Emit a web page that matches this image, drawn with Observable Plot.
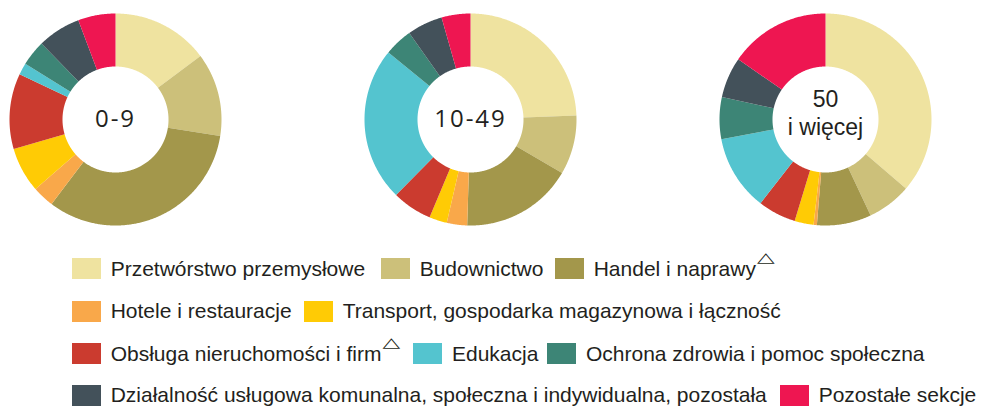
<!DOCTYPE html>
<html><head><meta charset="utf-8">
<script src="https://cdn.jsdelivr.net/npm/d3@7"></script>
<script src="https://cdn.jsdelivr.net/npm/@observablehq/plot@0.6"></script>
<style>
html,body{margin:0;padding:0;background:#fff;}
#wrap{position:relative;width:981px;height:407px;overflow:hidden;}
#chart svg{display:block;}
#legend{position:absolute;left:0;top:0;width:981px;height:407px;font-family:"Liberation Sans",Arial,sans-serif;font-size:21px;color:#231f20;}
.item{position:absolute;display:flex;align-items:center;white-space:nowrap;height:22px;}
.sw{width:29px;height:21px;margin-right:9.7px;flex:none;}
.tri{font-family:"DejaVu Sans",sans-serif;font-size:23px;line-height:1;display:inline-block;transform:scaleY(0.6);transform-origin:top;align-self:flex-start;margin-top:-7px;margin-left:1px;}
</style></head><body>
<div id="wrap"><div id="chart"></div><div id="legend"></div></div>
<script>
// ---- data ----
const categories = [
  "Przetwórstwo przemysłowe",
  "Budownictwo",
  "Handel i naprawy",
  "Hotele i restauracje",
  "Transport, gospodarka magazynowa i łączność",
  "Obsługa nieruchomości i firm",
  "Edukacja",
  "Ochrona zdrowia i pomoc społeczna",
  "Działalność usługowa komunalna, społeczna i indywidualna, pozostała",
  "Pozostałe sekcje"
];
const colors = ["#efe3a0","#ccc07a","#a3974b","#f9a84a","#ffcb05","#cb3b2f","#54c4cf","#3d8576","#43515a","#ee1651"];
const marked = [false,false,true,false,false,true,false,false,false,false];
const groupLabels = ["0-9","10-49","50\ni więcej"];
const share0_9   = [14.8,12.7,32.8,3.3,6.9,11.5,1.8,3.9,6.6,5.7];
const share10_49 = [24.4,9.0,17.1,3.1,2.7,6.1,23.5,4.3,5.4,4.4];
const share50    = [36.3,6.7,8.3,0.5,2.9,5.8,11.5,6.4,6.2,15.4];

// ---- layout ----
const W = 981, H = 245;
const PX = 106;               // px per unit radius
const CX0 = 115, CY = 119;    // center of first donut (px)
const SPACING = 355 / PX;     // distance between donut centers (units)
const R_IN = 0.5;

const shares = [share0_9, share10_49, share50];
const rows = [];
shares.forEach((vals, g) => {
  const total = d3.sum(vals);
  let acc = 0;
  vals.forEach((v, i) => {
    const a0 = acc / total * 2 * Math.PI;
    acc += v;
    const a1 = acc / total * 2 * Math.PI;
    const n = Math.max(2, Math.ceil((a1 - a0) / (Math.PI / 360)));
    const id = g + "-" + i;
    const cat = categories[i];
    for (let j = 0; j <= n; j++) {
      const a = a0 + (a1 - a0) * j / n;
      rows.push({id, cat, x: g * SPACING + Math.sin(a), y: Math.cos(a)});
    }
    for (let j = n; j >= 0; j--) {
      const a = a0 + (a1 - a0) * j / n;
      rows.push({id, cat, x: g * SPACING + R_IN * Math.sin(a), y: R_IN * Math.cos(a)});
    }
  });
});
const labelData = groupLabels.map((label, g) => ({label, x: g * SPACING, y: 0}));

const plot = Plot.plot({
  width: W, height: H, margin: 0,
  x: {domain: [-CX0 / PX, (W - CX0) / PX], axis: null},
  y: {domain: [-(H - CY) / PX, CY / PX], axis: null},
  color: {domain: categories, range: colors},
  marks: [
    Plot.line(rows, {x: "x", y: "y", z: "id", fill: "cat", stroke: "none", curve: "linear"}),
    Plot.text(labelData.filter(d => !d.label.includes("\n")), {
      x: "x", y: "y", text: "label", fontFamily: "Open Sans, sans-serif", fontSize: 24, fill: "#231f20"
    }),
    Plot.text(labelData.filter(d => d.label.includes("\n")), {
      x: "x", y: "y", text: "label", fontFamily: "Liberation Sans, Arial, sans-serif", fontSize: 23,
      lineHeight: 28 / 23, dy: -7.4, fill: "#231f20"
    })
  ]
});
document.getElementById("chart").appendChild(plot);
const tg = plot.querySelectorAll('g[aria-label="text"]');
if (tg[0]) tg[0].style.letterSpacing = "2px";

// ---- legend ----
const legendRows = [[0,1,2],[3,4],[5,6,7],[8,9]];
const legendLefts = [[72,381,555],[72,304],[72,413.3,547.3],[72,780]];
const rowCenters = [268.7, 311.3, 353.7, 395.3];
const legend = document.getElementById("legend");
legendRows.forEach((row, r) => {
  row.forEach((ci, k) => {
    const item = document.createElement("div");
    item.className = "item";
    item.style.left = legendLefts[r][k] + "px";
    item.style.top = (rowCenters[r] - 11) + "px";
    const sw = document.createElement("span");
    sw.className = "sw";
    sw.style.background = colors[ci];
    const tx = document.createElement("span");
    tx.textContent = categories[ci];
    item.appendChild(sw);
    item.appendChild(tx);
    if (marked[ci]) {
      const t = document.createElement("span");
      t.className = "tri";
      t.textContent = "△";
      item.appendChild(t);
    }
    legend.appendChild(item);
  });
});
</script>
</body></html>
